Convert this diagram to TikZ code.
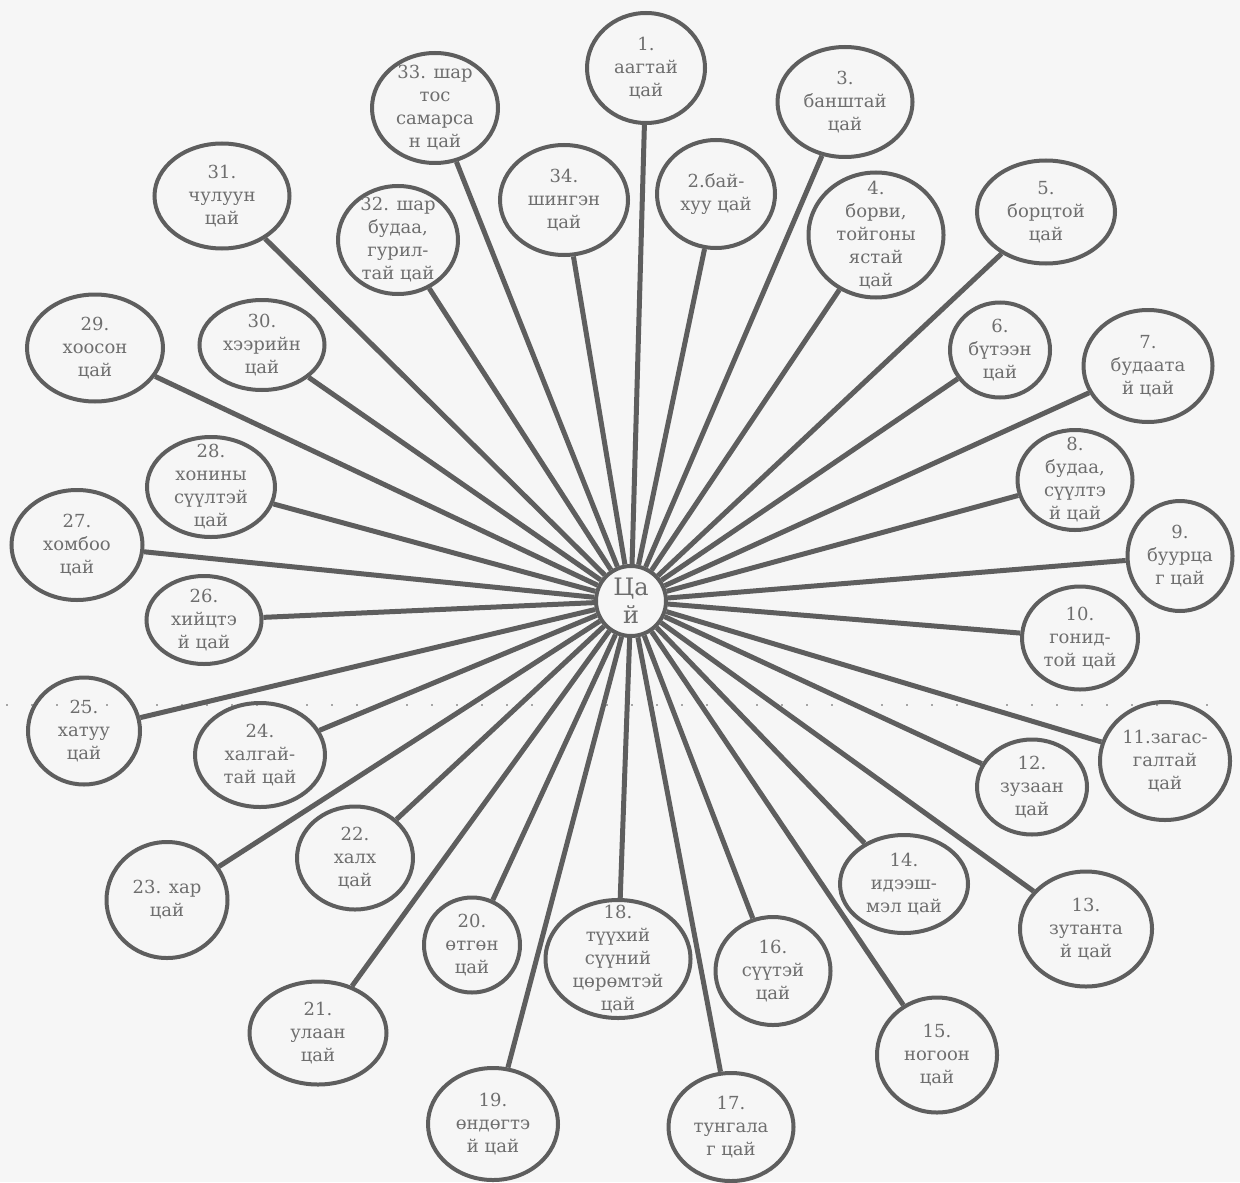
\documentclass[tikz,border=0pt]{standalone}
\usepackage{fontspec}
\setmainfont{DejaVu Serif}
\usetikzlibrary{shapes.geometric}
\definecolor{ln}{HTML}{5E5E5E}
\definecolor{tx}{HTML}{6E6E6E}
\definecolor{bg}{HTML}{F6F6F6}
\newcommand\bubble[6]{%
  \node[bub, minimum width=#4*0.5pt, minimum height=#5*0.5pt] (#1) at (#2,#3) {};
  \node[bubtext] (#1t) at (#2,#3) {#6};}
\begin{document}
\begin{tikzpicture}[x=0.5pt,y=-0.5pt,
  bub/.style={ellipse, draw=ln, line width=2pt, inner sep=0pt},
  bubtext/.style={inner sep=0pt, align=center, text=tx, font=\fontsize{9}{11.5}\selectfont},
  spoke/.style={draw=ln, line width=2.5pt},
  dotline/.style={draw=black!35, line width=1pt, dash pattern=on 0.8pt off 11.7pt}]
\fill[bg] (0,0) rectangle (1240,1182);
\useasboundingbox (0,0) rectangle (1240,1182);
\draw[dotline] (6,705) -- (1215,705);
\node[circle, draw=ln, line width=2pt, minimum size=35pt, inner sep=0pt] (c) at (631,601) {};
\node[inner sep=0pt, align=center, text=tx, font=\fontsize{12}{14}\selectfont] (ct) at (631,601) {Ца\\й};
\bubble{n1}{646}{68}{118}{110}{1.\\аагтай\\цай}
\bubble{n2}{716}{194}{118}{108}{2.бай-\\хуу цай}
\bubble{n3}{845}{102}{135}{110}{3.\\банштай\\цай}
\bubble{n4}{876}{235}{135}{125}{4.\\борви,\\тойгоны\\ястай\\цай}
\bubble{n5}{1046}{212}{138}{103}{5.\\борцтой\\цай}
\bubble{n6}{1000}{350}{100}{95}{6.\\бүтээн\\цай}
\bubble{n7}{1148}{366}{129}{112}{7.\\будаата\\й цай}
\bubble{n8}{1075}{480}{115}{100}{8.\\будаа,\\сүүлтэ\\й цай}
\bubble{n9}{1180}{556}{105}{110}{9.\\буурца\\г цай}
\bubble{n10}{1080}{638}{116}{103}{10.\\гонид-\\той цай}
\bubble{n11}{1165}{761}{130}{118}{11.загас-\\галтай\\цай}
\bubble{n12}{1032}{787}{110}{95}{12.\\зузаан\\цай}
\bubble{n13}{1086}{929}{132}{115}{13.\\зутанта\\й цай}
\bubble{n14}{904}{884}{128}{98}{14.\\идээш-\\мэл цай}
\bubble{n15}{937}{1055}{120}{115}{15.\\ногоон\\цай}
\bubble{n16}{773}{971}{115}{108}{16.\\сүүтэй\\цай}
\bubble{n17}{731}{1127}{125}{108}{17.\\тунгала\\г цай}
\bubble{n18}{618}{959}{145}{118}{18.\\түүхий\\сүүний\\цөрөмтэй\\цай}
\bubble{n19}{493}{1124}{130}{112}{19.\\өндөгтэ\\й цай}
\bubble{n20}{472}{945}{96}{95}{20.\\өтгөн\\цай}
\bubble{n21}{318}{1033}{137}{103}{21.\\улаан\\цай}
\bubble{n22}{355}{858}{116}{103}{22.\\халх\\цай}
\bubble{n23}{167}{900}{121}{116}{23. хар\\цай}
\bubble{n24}{260}{755}{130}{104}{24.\\халгай-\\тай цай}
\bubble{n25}{84}{731}{112}{107}{25.\\хатуу\\цай}
\bubble{n26}{204}{620}{115}{88}{26.\\хийцтэ\\й цай}
\bubble{n27}{77}{545}{131}{110}{27.\\хомбоо\\цай}
\bubble{n28}{211}{487}{128}{100}{28.\\хонины\\сүүлтэй\\цай}
\bubble{n29}{95}{348}{136}{107}{29.\\хоосон\\цай}
\bubble{n30}{262}{345}{125}{90}{30.\\хээрийн\\цай}
\bubble{n31}{222}{196}{135}{105}{31.\\чулуун\\цай}
\bubble{n32}{398}{240}{120}{108}{32. шар\\будаа,\\гурил-\\тай цай}
\bubble{n33}{435}{108}{126}{110}{33. шар\\тос\\самарса\\н цай}
\bubble{n34}{564}{200}{128}{110}{34.\\шингэн\\цай}
\foreach \i in {1,...,34} \draw[spoke] (c) -- (n\i);
\end{tikzpicture}
\end{document}
